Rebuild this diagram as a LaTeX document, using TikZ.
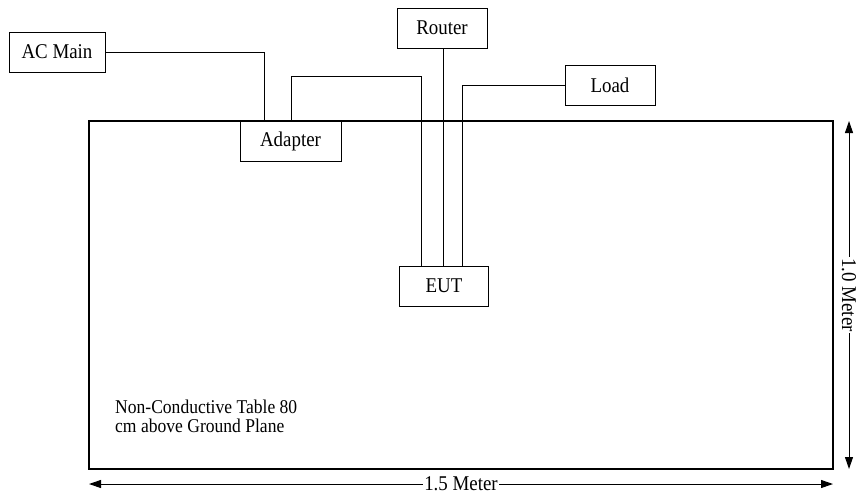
\documentclass[tikz,border=0pt]{standalone}
\usepackage{fontspec}
\setmainfont[FakeStretch=0.9]{Liberation Serif}
\usetikzlibrary{arrows.meta}
\begin{document}
\begin{tikzpicture}[x=1pt,y=-1pt,
  lbl/.style={font=\fontsize{21}{21}\selectfont},
  devbox/.style={draw, line width=0.9pt, fill=white, lbl, inner sep=0pt, minimum height=40pt},
  wire/.style={line width=0.9pt},
  tablebox/.style={line width=2.4pt},
  dimarrow/.style={line width=1pt, {Triangle[length=12pt,width=8pt]}-{Triangle[length=12pt,width=8pt]}},
  dimlabel/.style={lbl, fill=white, inner xsep=1pt, inner ysep=0pt}]
\useasboundingbox (0,0) rectangle (858,498);
% table
\draw[tablebox] (89,121) rectangle (833,469);
% devices
\node[devbox, minimum width=96pt] (ac) at (57,52) {AC Main};
\node[devbox, minimum width=101pt, anchor=north] (adapter) at (290.5,121) {Adapter};
\node[devbox, minimum width=90pt] (router) at (442,28) {Router};
\node[devbox, minimum width=90pt] (load) at (610,85) {Load};
\node[devbox, minimum width=89pt] (eut) at (444,286) {EUT};
% wire columns
\coordinate (c1) at (264,0);
\coordinate (c2) at (291,76);
\coordinate (c3) at (421,0);
\coordinate (c4) at (443.5,0);
\coordinate (c5) at (462,0);
% wires
\draw[wire] (ac.east) -| (adapter.north -| c1);
\draw[wire] (adapter.north -| c2) |- (c2 -| c3) -- (eut.north -| c3);
\draw[wire] (router.south -| c4) -- (eut.north -| c4);
\draw[wire] (load.west) -| (eut.north -| c5);
% text
\node[align=left, anchor=north west, inner sep=0pt, font=\fontsize{19.5}{19}\selectfont] (note) at (115,400) {Non-Conductive Table 80\\cm above Ground Plane};
% dimensions
\coordinate (hl) at (89,484);
\coordinate (hr) at (833,484);
\coordinate (vt) at (849,121);
\coordinate (vb) at (849,469);
\draw[dimarrow] (hl) -- node[dimlabel] (hlab) {1.5 Meter} (hr);
\draw[dimarrow] (vt) -- node[dimlabel, rotate=-90] (vlab) {1.0 Meter} (vb);
\end{tikzpicture}
\end{document}
